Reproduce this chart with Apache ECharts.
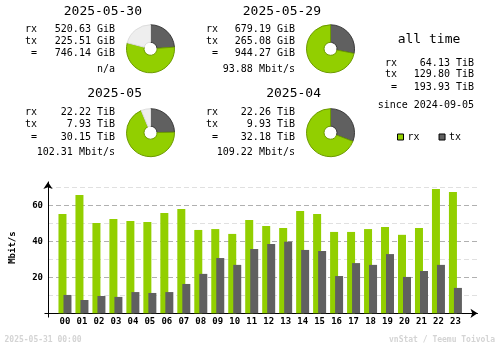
<!DOCTYPE html>
<html>
<head>
<meta charset="utf-8">
<script src="https://cdn.jsdelivr.net/npm/echarts@6/dist/echarts.min.js"></script>
<style>
html,body{margin:0;padding:0;background:#fff;}
#chart{width:500px;height:348px;}
</style>
</head>
<body>
<div id="chart"></div>
<script>
// ---- data ----
var periods = ['2025-05-30', '2025-05-29', '2025-05', '2025-04'];
var periodRx = [520.63, 679.19, 22.22, 22.26];
var periodTx = [225.51, 265.08, 7.93, 9.93];
var periodTotal = [746.14, 944.27, 30.15, 32.18];
var periodUnit = ['GiB', 'GiB', 'TiB', 'TiB'];
var periodRate = ['n/a', '93.88 Mbit/s', '102.31 Mbit/s', '109.22 Mbit/s'];

var allTimeRx = '64.13';
var allTimeTx = '129.80';
var allTimeTotal = '193.93';
var allTimeUnit = 'TiB';
var allTimeSince = '2024-09-05';

var hours = ['00','01','02','03','04','05','06','07','08','09','10','11',
             '12','13','14','15','16','17','18','19','20','21','22','23'];
var hourRx = [55.2, 65.7, 50.2, 52.4, 51.3, 50.7, 55.7, 57.9, 46.3, 46.8, 44.1, 51.8,
              48.5, 47.4, 56.9, 55.2, 45.2, 45.2, 46.8, 47.9, 43.6, 47.4, 69.1, 67.4];
var hourTx = [10.2, 7.4, 9.6, 9.1, 11.8, 11.3, 11.8, 16.3, 21.9, 30.7, 26.9, 35.7,
              38.5, 39.8, 35.2, 34.6, 20.7, 27.9, 26.9, 32.9, 20.2, 23.5, 26.9, 14.1];
var yTicks = [20, 40, 60];
var footerDate = '2025-05-31 00:00';
var footerCredit = 'vnStat / Teemu Toivola';

// ---- style ----
var MONO = '"DejaVu Sans Mono", monospace';
var RX = '#92cf00', TX = '#606060';
var RX_D = '#6c9a00', TX_D = '#3a3a3a';
var REST = '#eeeeee', REST_D = '#dddddd';

var chart = echarts.init(document.getElementById('chart'), null, {renderer: 'canvas'});

// layout of the four summary blocks
var blocks = [
  {label: 25, right: 115, titleRight: 142, titleY: 11.7, rows: [29, 41.3, 53.3, 69.3], pie: [150.5, 48.8]},
  {label: 206, right: 295, titleRight: 321, titleY: 11.7, rows: [29, 41.3, 53.3, 69.3], pie: [330.5, 48.8]},
  {label: 25, right: 115, titleRight: 142, titleY: 94, rows: [112.3, 124.5, 137, 152.3], pie: [150.5, 132.7]},
  {label: 206, right: 295, titleRight: 321, titleY: 94, rows: [112.3, 124.5, 137, 152.3], pie: [330.5, 132.7]}
];

function txt(s, x, y, align, size, color, weight) {
  return {
    type: 'text', silent: true,
    style: {
      text: s, x: x, y: y, textAlign: align || 'left', textVerticalAlign: 'middle',
      fill: color || '#000',
      font: (weight || 'normal') + ' ' + (size || 10) + 'px ' + MONO
    }
  };
}

var graphics = [];
var pies = [];
for (var i = 0; i < periods.length; i++) {
  var b = blocks[i];
  graphics.push(txt(periods[i], b.titleRight, b.titleY, 'right', 13));
  graphics.push(txt('rx', b.label, b.rows[0]));
  graphics.push(txt('tx', b.label, b.rows[1]));
  graphics.push(txt(' =', b.label, b.rows[2]));
  graphics.push(txt(periodRx[i].toFixed(2) + ' ' + periodUnit[i], b.right, b.rows[0], 'right'));
  graphics.push(txt(periodTx[i].toFixed(2) + ' ' + periodUnit[i], b.right, b.rows[1], 'right'));
  graphics.push(txt(periodTotal[i].toFixed(2) + ' ' + periodUnit[i], b.right, b.rows[2], 'right'));
  graphics.push(txt(periodRate[i], b.right, b.rows[3], 'right'));

  // pie scale: larger of this period and its paired period
  var pair = (i % 2 === 0) ? i + 1 : i - 1;
  var scale = Math.max(periodTotal[i], periodTotal[pair]);
  var rest = scale - periodTotal[i];
  var pdata = [
    {name: 'tx', value: periodTx[i], itemStyle: {color: TX, borderColor: TX_D}},
    {name: 'rx', value: periodRx[i], itemStyle: {color: RX, borderColor: RX_D}}
  ];
  if (rest > 0.0001) {
    pdata.push({name: 'rest', value: rest, itemStyle: {color: REST, borderColor: REST_D}});
  }
  pies.push({
    type: 'pie', silent: true, animation: false,
    center: b.pie, radius: [6.5, 24], startAngle: 90, clockwise: true,
    label: {show: false}, labelLine: {show: false},
    itemStyle: {borderWidth: 1},
    emphasis: {disabled: true},
    data: pdata
  });
}

// all time block
graphics.push(txt('all time', 429, 39.5, 'center', 13));
graphics.push(txt('rx', 385, 63.5));
graphics.push(txt('tx', 385, 74.5));
graphics.push(txt(' =', 385, 87));
graphics.push(txt(allTimeRx + ' ' + allTimeUnit, 474, 63.5, 'right'));
graphics.push(txt(allTimeTx + ' ' + allTimeUnit, 474, 74.5, 'right'));
graphics.push(txt(allTimeTotal + ' ' + allTimeUnit, 474, 87, 'right'));
graphics.push(txt('since ' + allTimeSince, 474, 105, 'right'));

// footer
graphics.push(txt(footerDate, 4.5, 340, 'left', 8, '#d4d4d4', 'bold'));
graphics.push(txt(footerCredit, 495, 340, 'right', 8, '#d4d4d4', 'bold'));

var rxPts = hourRx.map(function (v, k) { return [k, v]; });
var txPts = hourTx.map(function (v, k) { return [k, v]; });

var option = {
  backgroundColor: '#ffffff',
  animation: false,
  textStyle: {fontFamily: MONO},
  legend: {
    data: ['rx', 'tx'],
    left: 397, top: 132, padding: 0,
    icon: 'rect', itemWidth: 6, itemHeight: 6, itemGap: 19,
    selectedMode: false,
    itemStyle: {borderColor: '#000', borderWidth: 1},
    textStyle: {fontFamily: MONO, fontSize: 10, color: '#000', padding: [0, 0, 0, -1]}
  },
  grid: {left: 48, right: 22.5, top: 181.9, bottom: 34.7, containLabel: false},
  xAxis: {
    type: 'value', min: -1, max: 24.3, interval: 1,
    axisLine: {show: true, onZero: false, lineStyle: {color: '#000', width: 1},
      symbol: ['none', 'arrow'], symbolSize: [7, 7]},
    axisTick: {show: false},
    splitLine: {show: false},
    axisLabel: {
      margin: 4, color: '#000', fontFamily: MONO, fontSize: 9, fontWeight: 'bold',
      showMinLabel: true, showMaxLabel: true,
      formatter: function (v) {
        return (v >= 0 && v <= 23 && Math.round(v) === v) ? hours[v] : '';
      }
    }
  },
  yAxis: {
    type: 'value', min: 0, max: 73, interval: 10,
    name: 'Mbit/s', nameLocation: 'middle', nameGap: 31, nameRotate: 90,
    nameTextStyle: {fontFamily: MONO, fontSize: 9, fontWeight: 'bold', color: '#000'},
    axisLine: {show: true, onZero: false, lineStyle: {color: '#000', width: 1},
      symbol: ['none', 'arrow'], symbolSize: [7, 7]},
    axisTick: {show: false},
    axisLabel: {
      margin: 5, color: '#000', fontFamily: MONO, fontSize: 9, fontWeight: 'bold',
      formatter: function (v) { return yTicks.indexOf(v) >= 0 ? String(v) : ''; }
    },
    splitLine: {
      show: true, showMaxLine: false,
      lineStyle: {
        type: [5, 3], width: 1,
        color: ['#b0b0b0', '#e0e0e0', '#b0b0b0', '#e0e0e0', '#b0b0b0', '#e0e0e0', '#b0b0b0', '#e0e0e0', 'rgba(0,0,0,0)']
      }
    }
  },
  series: [
    {name: 'rx', type: 'bar', data: rxPts, barWidth: 8, barGap: '-37.5%',
     itemStyle: {color: RX}, silent: true, emphasis: {disabled: true}},
    {name: 'tx', type: 'bar', data: txPts, barWidth: 8, barGap: '-37.5%',
     itemStyle: {color: TX}, silent: true, emphasis: {disabled: true}}
  ].concat(pies),
  graphic: graphics
};

chart.setOption(option);

// origin stubs of the axis cross
var o = chart.convertToPixel({gridIndex: 0}, [-1, 0]);
var ox = Math.round(o[0]) + 0.5, oy = Math.round(o[1]) + 0.5;
chart.setOption({
  graphic: graphics.concat([
    {type: 'line', silent: true, shape: {x1: ox - 4, y1: oy, x2: ox, y2: oy}, style: {stroke: '#000', lineWidth: 1}},
    {type: 'line', silent: true, shape: {x1: ox, y1: oy, x2: ox, y2: oy + 4}, style: {stroke: '#000', lineWidth: 1}}
  ])
});
</script>
</body>
</html>
